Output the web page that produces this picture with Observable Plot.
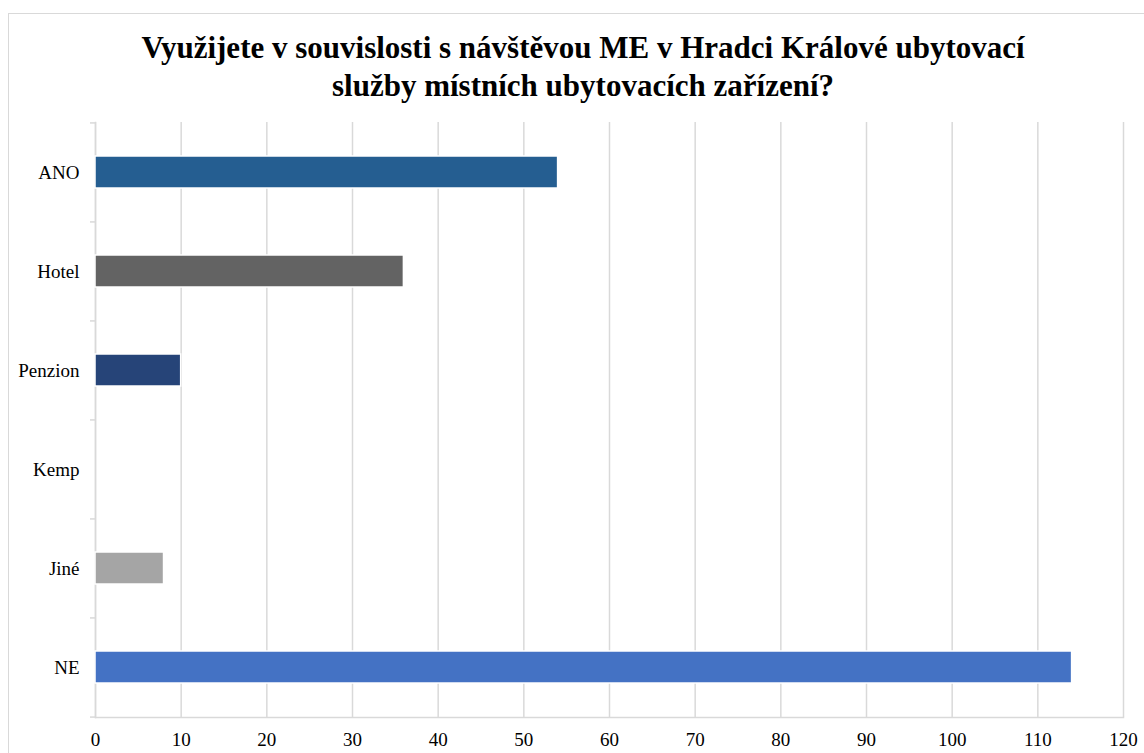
<!DOCTYPE html>
<html>
<head>
<meta charset="utf-8">
<script src="https://cdn.jsdelivr.net/npm/d3@7"></script>
<script src="https://cdn.jsdelivr.net/npm/@observablehq/plot@0.6"></script>
<style>
  html, body { margin: 0; padding: 0; background: #fff; }
  #wrap { position: relative; width: 1144px; height: 753px; overflow: hidden; font-family: "Liberation Serif", "Times New Roman", serif; }
  #border { position: absolute; left: 8px; top: 13px; width: 1150px; height: 760px; border: 1.5px solid #d9d9d9; box-sizing: border-box; }
  #title { position: absolute; left: 8px; top: 29px; width: 1150px; text-align: center; font-weight: bold; font-size: 31px; line-height: 38px; color: #000; }
  #chart { position: absolute; left: 0; top: 100px; }
</style>
</head>
<body>
<div id="wrap">
  <div id="border"></div>
  <div id="title">Využijete v souvislosti s návštěvou ME v Hradci Králové ubytovací<br>služby místních ubytovacích zařízení?</div>
  <div id="chart"></div>
</div>
<script>
const categories = ["ANO", "Hotel", "Penzion", "Kemp", "Jiné", "NE"];
const values = [54, 36, 10, 0, 8, 114];
const colors = ["#255E91", "#636363", "#264478", "#A5A5A5", "#A5A5A5", "#4472C4"];
const xTicks = [0, 10, 20, 30, 40, 50, 60, 70, 80, 90, 100, 110, 120];

const data = categories.map((c, i) => ({category: c, value: values[i], color: colors[i]}));

const W = 1144, H = 653, mt = 22, mb = 36, ml = 95, mr = 21;
const step = (H - mt - mb) / categories.length;
const grid = "#d9d9d9";

const chart = Plot.plot({
  width: W,
  height: H,
  marginTop: mt,
  marginBottom: mb,
  marginLeft: ml,
  marginRight: mr,
  style: {fontFamily: "'Liberation Serif', 'Times New Roman', serif", fontSize: "19px", color: "#000", background: "transparent"},
  x: {domain: [0, 120], ticks: xTicks, label: null},
  y: {domain: categories, paddingInner: 0.68, paddingOuter: 0.34, label: null},
  color: {type: "identity"},
  marks: [
    Plot.gridX(xTicks, {stroke: grid, strokeOpacity: 1, strokeWidth: 1.5}),
    Plot.frame({anchor: "left", stroke: grid, strokeWidth: 1.5}),
    Plot.frame({anchor: "bottom", stroke: grid, strokeWidth: 1.5}),
    Plot.axisY({tickSize: 5, dy: -step / 2, text: null, label: null, stroke: grid, strokeWidth: 1.5}),
    Plot.axisY({ticks: [categories[categories.length - 1]], tickSize: 5, dy: step / 2, text: null, label: null, stroke: grid, strokeWidth: 1.5}),
    Plot.barX(data, {x: "value", y: "category", fill: "color", stroke: "white", strokeWidth: 1.5}),
    Plot.axisY({tickSize: 0, tickPadding: 16, label: null, fill: "#000", fontSize: 19}),
    Plot.axisX(xTicks, {tickSize: 0, tickPadding: 15, label: null, fill: "#000", fontSize: 19})
  ]
});
document.getElementById("chart").appendChild(chart);
</script>
</body>
</html>
